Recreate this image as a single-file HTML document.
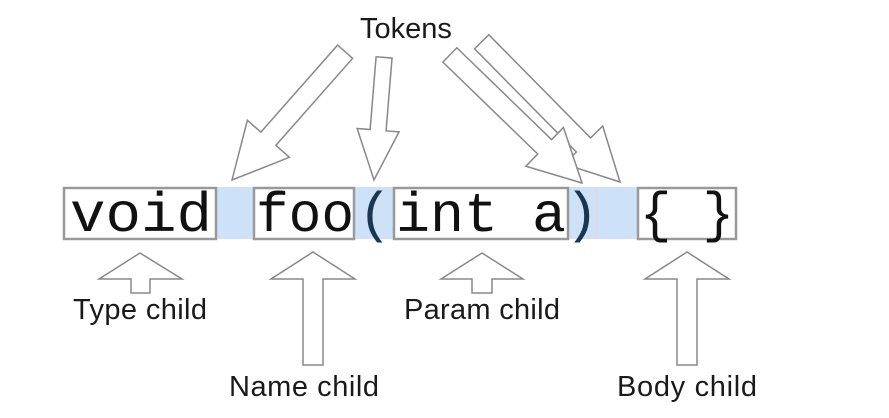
<!DOCTYPE html>
<html><head><meta charset="utf-8"><style>
html,body{margin:0;padding:0;background:#fff;}
body{width:889px;height:413px;overflow:hidden;}
</style></head><body>
<svg width="889" height="413" viewBox="0 0 889 413" xmlns="http://www.w3.org/2000/svg">
<rect x="0" y="0" width="889" height="413" fill="#fff"/>
<g fill="#cde2f8">
<rect x="216" y="187" width="38" height="52"/>
<rect x="354" y="187" width="40" height="52"/>
<rect x="568" y="187" width="28" height="52"/>
<rect x="598" y="187" width="40" height="52"/>
</g>
<rect x="595" y="187" width="3" height="52" fill="#d8dde3"/>
<g fill="#fff" stroke="#999" stroke-width="2.5">
<rect x="64" y="188" width="152" height="51"/>
<rect x="254" y="188" width="100" height="51"/>
<rect x="394" y="188" width="174" height="51"/>
<rect x="638" y="188" width="98" height="51"/>
</g>
<g font-family="'Liberation Mono', monospace" font-size="56" fill="#111">
<text x="70" y="231" textLength="142" lengthAdjust="spacingAndGlyphs">void</text>
<text x="256" y="231" textLength="98" lengthAdjust="spacingAndGlyphs">foo</text>
<text x="358" y="231" fill="#1c3550">(</text>
<text x="396" y="231" textLength="170" lengthAdjust="spacingAndGlyphs">int a</text>
<text x="565" y="231" fill="#1c3550">)</text>
<text x="640" y="231" textLength="94" lengthAdjust="spacingAndGlyphs">{ }</text>
</g>
<g fill="#fff" stroke="#888" stroke-width="1.5" stroke-linejoin="miter">
<g transform="translate(620,182) rotate(-44.6)"><polygon points="0,0 -27,-52 -10,-52 -10,-197 10,-197 10,-52 27,-52"/></g>
<g transform="translate(582,183) rotate(-45.9)"><polygon points="0,0 -27,-52 -10,-52 -10,-184 10,-184 10,-52 27,-52"/></g>
<g transform="translate(232,180) rotate(41.4)"><polygon points="0,0 -28,-55 -10,-55 -10,-171 10,-171 10,-55 28,-55"/></g>
<g transform="translate(374,180) rotate(4.7)"><polygon points="0,0 -21,-50 -8,-50 -8,-123 8,-123 8,-50 21,-50"/></g>
</g>
<g fill="#fff" stroke="#888" stroke-width="1.5">
<polygon points="140,253 182,279 150,279 150,293 131,293 131,279 99,279"/>
<polygon points="313,252 355,279 323,279 323,365 303,365 303,279 271,279"/>
<polygon points="482,253 523,279 492,279 492,293 472,293 472,279 441,279"/>
<polygon points="687,252 729,279 697,279 697,365 677,365 677,279 645,279"/>
</g>
<g font-family="'Liberation Sans', sans-serif" font-size="29" fill="#1a1a1a">
<text x="406" y="38" text-anchor="middle">Tokens</text>
<text x="140" y="319" text-anchor="middle" textLength="134">Type child</text>
<text x="482" y="319" text-anchor="middle" textLength="156">Param child</text>
<text x="304" y="396" text-anchor="middle" textLength="150">Name child</text>
<text x="687" y="396" text-anchor="middle" textLength="140">Body child</text>
</g>
</svg>
</body></html>
